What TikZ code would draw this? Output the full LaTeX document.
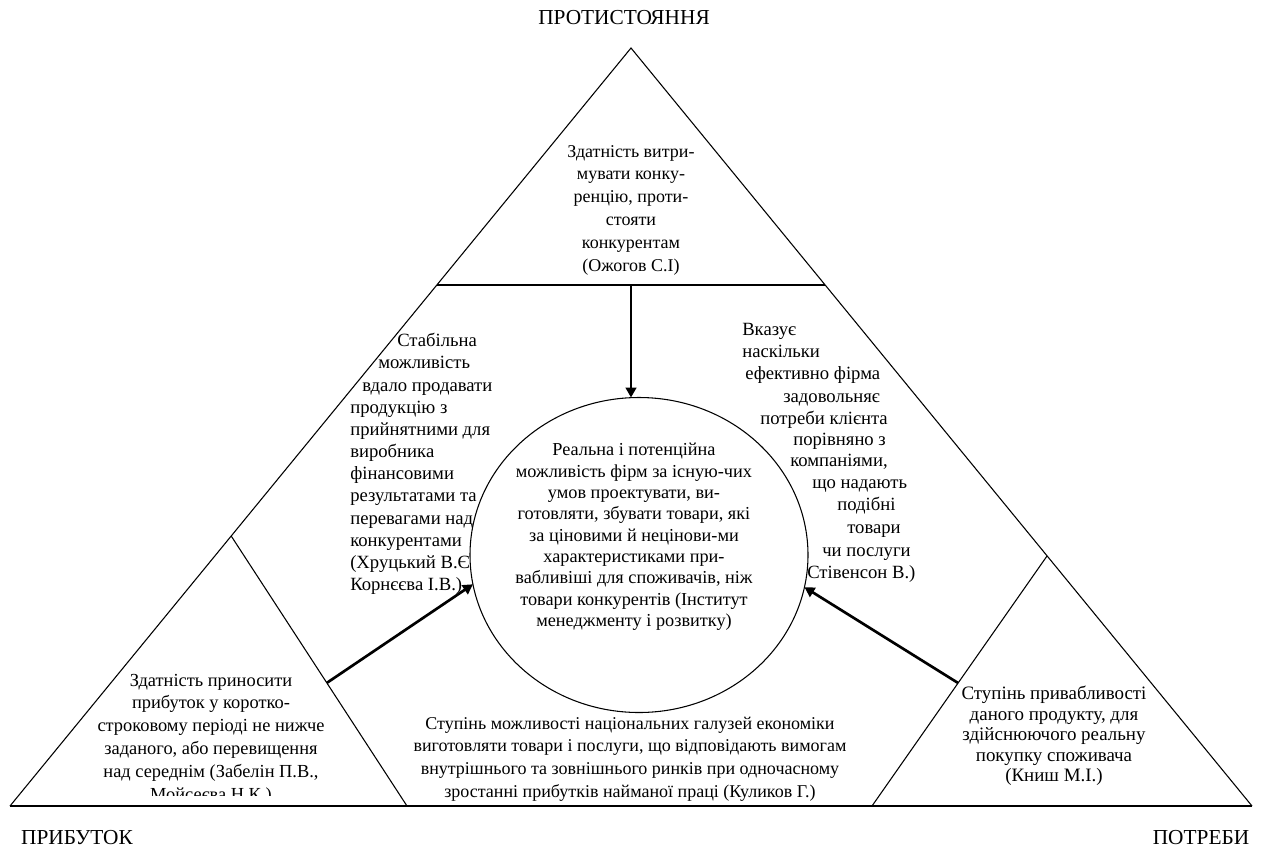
\documentclass[tikz,border=0pt]{standalone}
\usepackage{fontspec}
\setmainfont{Liberation Serif}
\usetikzlibrary{shapes.geometric,arrows.meta,calc}
\begin{document}
\begin{tikzpicture}[x=0.75pt,y=-0.75pt,
  txt/.style={font=\fontsize{13.5}{16.9}\selectfont, inner sep=0pt, align=center},
  ltxt/.style={font=\fontsize{14}{16.9}\selectfont, inner sep=0pt, anchor=mid west},
  lab/.style={font=\fontsize{16}{19}\selectfont, inner sep=0pt},
  edgeline/.style={line width=0.8pt},
  heavyline/.style={line width=1.4pt},
  arr/.style={line width=2pt, -{Triangle[length=7.5pt,width=8pt]}}]
\useasboundingbox[fill=white] (0,0) rectangle (1261,851);
% main triangle
\coordinate (A) at (631,48);
\coordinate (BL) at (10,806);
\coordinate (BR) at (1252,806);
\coordinate (TL) at (436.8,285);
\coordinate (TR) at (825.2,285);
\coordinate (LA) at (231.2,536);
\coordinate (LB) at (407,806);
\coordinate (RA) at (1047,556);
\coordinate (RB) at (872,806);
\draw[edgeline] (BL) -- (A) -- (BR);
\draw[heavyline] (BL) -- (BR);
\draw[heavyline] (TL) -- (TR);
\draw[edgeline] (LA) -- (LB);
\draw[edgeline] (RA) -- (RB);
% central ellipse
\node[ellipse, draw, edgeline, minimum width=253.5pt, minimum height=236.25pt, inner sep=0pt, outer sep=0pt] (c) at (639,555) {};
% arrow starts
\coordinate (s1) at (631,285);
\coordinate (s2) at ($(LA)!0.544!(LB)$);
\coordinate (s3) at ($(RA)!0.508!(RB)$);
\draw[arr] (s1) -- (s1 |- c.north);
\draw[arr] (s2) -- (c.190.8);
\draw[arr] (s3) -- (c.349.2);
% corner labels
\node[lab] (lt) at (624,18) {ПРОТИСТОЯННЯ};
\node[lab] (ll) at (77,838) {ПРИБУТОК};
\node[lab] (lr) at (1201,838) {ПОТРЕБИ};
% top triangle text
\node[txt, font=\fontsize{13.5}{17.1}\selectfont] (t1) at (631,210) {Здатність витри-\\мувати конку-\\ренцію, проти-\\стояти\\конкурентам\\(Ожогов С.І)};
% circle text
\node[txt, font=\fontsize{13.7}{16}\selectfont] (t2) at (634,537) {Реальна і потенційна\\можливість фірм за існую-чих\\умов проектувати, ви-\\готовляти, збувати товари, які\\за ціновими й нецінови-ми\\характеристиками при-\\вабливіші для споживачів, ніж\\товари конкурентів (Інститут\\менеджменту і розвитку)};
% bottom middle text
\node[txt] (t3) at (630,759) {Ступінь можливості національних галузей економіки\\виготовляти товари і послуги, що відповідають вимогам\\внутрішнього та зовнішнього ринків при одночасному\\зростанні прибутків найманої праці (Куликов Г.)};
% right bottom text
\node[txt, font=\fontsize{14.2}{15.4}\selectfont] (t4) at (1054,736) {Ступінь привабливості\\даного продукту, для\\здійснюючого реальну\\покупку споживача\\(Книш М.І.)};
% left bottom text (clipped at its box)
\begin{scope}
\clip (0,600) rectangle (420,795);
\node[txt, font=\fontsize{13.8}{17.1}\selectfont] (t5) at (211,739) {Здатність приносити\\прибуток у коротко-\\строковому періоді не нижче\\заданого, або перевищення\\над середнім (Забелін П.В.,\\Мойсеєва Н.К.)};
\end{scope}
% left middle text
\foreach \x/\y/\t [count=\i] in {397/343/{Стабільна}, 378/365/{можливість}, 362/388/{вдало продавати}, 350/410/{продукцію з}, 350/432/{прийнятними для}, 350/454/{виробника}, 350/476/{фінансовими}, 350/498/{результатами та}, 350/521/{перевагами над}, 350/543/{конкурентами}, 350/565/{(Хруцький В.Є}, 350/587/{Корнєєва І.В.)}}
  \node[ltxt] (lm\i) at (\x,\y) {\t};
% right middle text
\foreach \x/\y/\t [count=\i] in {742/332/{Вказує}, 742/354/{наскільки}, 745/376/{ефективно фірма}, 783/399/{задовольняє}, 760/421/{потреби клієнта}, 793/442/{порівняно з}, 790/463/{компаніями,}, 812/485/{що надають}, 837/507/{подібні}, 847/530/{товари}, 822/553/{чи послуги}, 807/575/{Стівенсон В.)}}
  \node[ltxt] (rm\i) at (\x,\y) {\t};
\end{tikzpicture}
\end{document}
